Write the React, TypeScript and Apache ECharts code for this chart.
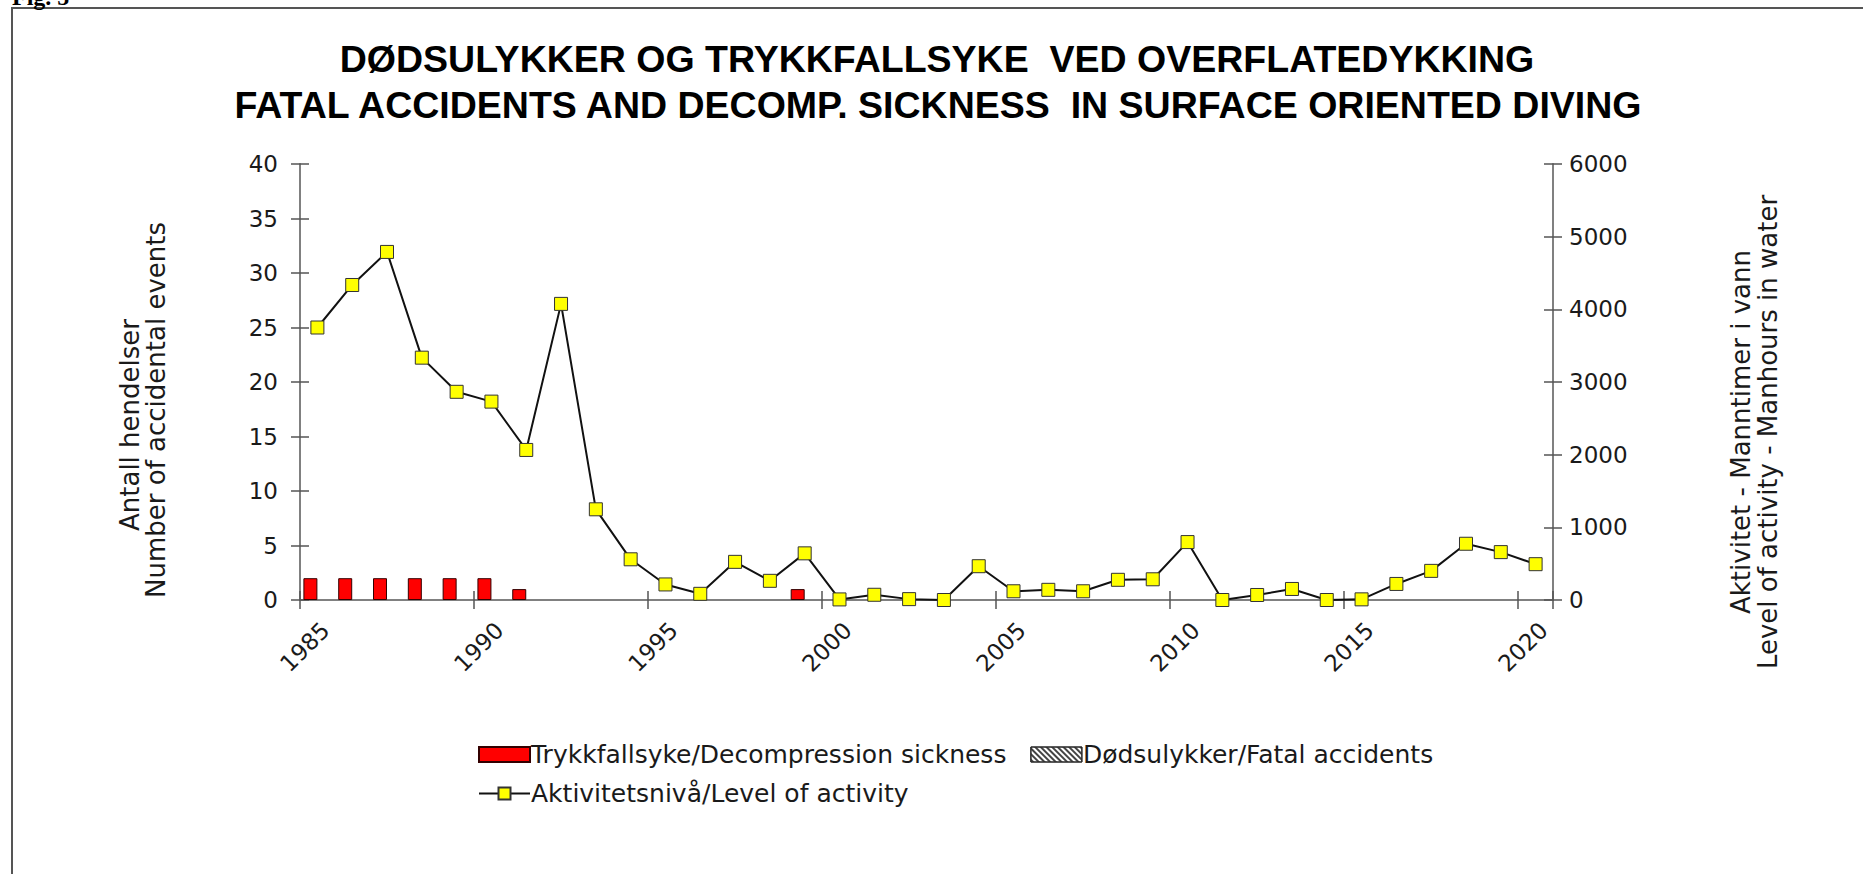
import React, { useEffect, useRef } from "react";
import * as echarts from "echarts";

const years = [
  "1985", "1986", "1987", "1988", "1989", "1990", "1991", "1992", "1993", "1994",
  "1995", "1996", "1997", "1998", "1999", "2000", "2001", "2002", "2003", "2004",
  "2005", "2006", "2007", "2008", "2009", "2010", "2011", "2012", "2013", "2014",
  "2015", "2016", "2017", "2018", "2019", "2020",
];

const decompressionSickness = [
  2, 2, 2, 2, 2, 2, 1, 0, 0, 0,
  0, 0, 0, 0, 1, 0, 0, 0, 0, 0,
  0, 0, 0, 0, 0, 0, 0, 0, 0, 0,
  0, 0, 0, 0, 0, 0,
];

const fatalAccidents = [
  0, 0, 0, 0, 0, 0, 0, 0, 0, 0,
  0, 0, 0, 0, 0, 0, 0, 0, 0, 0,
  0, 0, 0, 0, 0, 0, 0, 0, 0, 0,
  0, 0, 0, 0, 0, 0,
];

const activityLevel = [
  3750, 4335, 4790, 3335, 2865, 2730, 2065, 4075, 1248, 560,
  214, 85, 525, 264, 642, 8, 72, 12, 0, 465,
  120, 140, 120, 278, 285, 797, 0, 69, 152, 0,
  9, 221, 401, 774, 659, 493,
];

const titleLines = [
  "DØDSULYKKER OG TRYKKFALLSYKE  VED OVERFLATEDYKKING",
  "FATAL ACCIDENTS AND DECOMP. SICKNESS  IN SURFACE ORIENTED DIVING",
];
const leftAxisNames = ["Antall hendelser", "Number of accidental events"];
const rightAxisNames = ["Aktivitet - Manntimer i vann", "Level of activity - Manhours in water"];
const seriesNames = [
  "Trykkfallsyke/Decompression sickness",
  "Dødsulykker/Fatal accidents",
  "Aktivitetsnivå/Level of activity",
];

const TICK_FONT = "DejaVu Sans";
const TEXT_COLOR = "#1a1a1a";
const AXIS_COLOR = "#808080";
const TICK_COLOR = "#555";

const hatch = {
  symbol: "rect",
  symbolSize: 1,
  color: "#444",
  backgroundColor: "#ffffff",
  dashArrayX: [1, 0],
  dashArrayY: [2, 2],
  rotation: Math.PI / 4,
};

// zero-height bars are left undrawn (as in the reference), so their borders do not mark the axis
const barData = (values: number[]) => values.map((v) => (v === 0 ? "-" : v));

export default function App() {
  const ref = useRef<HTMLDivElement>(null);

  useEffect(() => {
    if (!ref.current) return;
    const chart = echarts.init(ref.current, undefined, { renderer: "svg" });

    const tickLabel = {
      fontFamily: TICK_FONT,
      fontSize: 23,
      color: TEXT_COLOR,
    };

    const rotatedName = (text: string, x: number, y: number) => ({
      type: "text",
      x,
      y,
      rotation: Math.PI / 2,
      style: {
        text,
        font: "26px 'DejaVu Sans'",
        fill: TEXT_COLOR,
        textAlign: "center",
        textVerticalAlign: "middle",
      },
    });

    const titleText = (text: string, x: number, y: number) => ({
      type: "text",
      x,
      y,
      style: {
        text,
        font: "bold 37.5px 'Liberation Sans'",
        fill: "#000",
        textAlign: "center",
        textVerticalAlign: "middle",
      },
    });

    const legendText = { fontFamily: TICK_FONT, fontSize: 25, color: TEXT_COLOR, padding: [0, 0, 0, -4] };

    const option: any = {
      animation: false,
      backgroundColor: "#fff",
      grid: { left: 300, right: 310, top: 164, bottom: 274, containLabel: false },
      graphic: [
        {
          type: "rect",
          shape: { x: 12, y: 8, width: 1900, height: 900 },
          style: { fill: "none", stroke: "#555", lineWidth: 2 },
          silent: true,
        },
        {
          type: "text",
          x: 12,
          y: 9,
          style: {
            text: "Fig. 5",
            font: "bold 24px 'Liberation Serif'",
            fill: "#000",
            textAlign: "left",
            textVerticalAlign: "bottom",
          },
        },
        titleText(titleLines[0], 937, 59),
        titleText(titleLines[1], 938, 105),
        rotatedName(leftAxisNames[0], 130, 425),
        rotatedName(leftAxisNames[1], 156, 410),
        rotatedName(rightAxisNames[0], 1741, 432),
        rotatedName(rightAxisNames[1], 1768, 432),
      ],
      legend: [
        {
          left: 473,
          top: 737,
          itemWidth: 51,
          itemHeight: 15,
          itemGap: 24,
          data: [
            { name: seriesNames[0], icon: "rect" },
            {
              name: seriesNames[1],
              icon: "rect",
              itemStyle: { color: "#ffffff", borderColor: "#222", borderWidth: 1, decal: hatch },
            },
          ],
          textStyle: legendText,
        },
        {
          left: 473,
          top: 776,
          itemWidth: 51,
          itemHeight: 15,
          data: [{ name: seriesNames[2] }],
          textStyle: legendText,
        },
      ],
      xAxis: [
        {
          type: "category",
          data: years,
          position: "bottom",
          boundaryGap: true,
          axisLine: { show: true, onZero: false, lineStyle: { color: AXIS_COLOR, width: 2 } },
          axisTick: { show: true, interval: 4, length: 9, alignWithLabel: false, lineStyle: { color: TICK_COLOR, width: 1.5 } },
          axisLabel: { ...tickLabel, interval: 4, rotate: 45, margin: 18, verticalAlign: "top" },
          splitLine: { show: false },
        },
        {
          type: "category",
          data: years,
          position: "bottom",
          boundaryGap: true,
          axisLine: { show: false },
          axisTick: { show: true, inside: true, interval: 4, length: 9, lineStyle: { color: TICK_COLOR, width: 1.5 } },
          axisLabel: { show: false },
          splitLine: { show: false },
        },
      ],
      yAxis: [
        {
          type: "value",
          position: "left",
          min: 0,
          max: 40,
          interval: 5,
          axisLine: { show: true, lineStyle: { color: AXIS_COLOR, width: 2 } },
          axisTick: { show: true, length: 9, lineStyle: { color: TICK_COLOR, width: 1.5 } },
          axisLabel: { ...tickLabel, margin: 22 },
          splitLine: { show: false },
        },
        {
          type: "value",
          position: "right",
          min: 0,
          max: 6000,
          interval: 1000,
          alignTicks: false,
          axisLine: { show: true, lineStyle: { color: AXIS_COLOR, width: 2 } },
          axisTick: { show: true, length: 9, lineStyle: { color: TICK_COLOR, width: 1.5 } },
          axisLabel: { ...tickLabel, margin: 16, formatter: (v: number) => String(v) },
          splitLine: { show: false },
        },
        {
          type: "value",
          position: "left",
          min: 0,
          max: 40,
          interval: 5,
          alignTicks: false,
          axisLine: { show: false },
          axisTick: { show: true, inside: true, length: 9, lineStyle: { color: TICK_COLOR, width: 1.5 } },
          axisLabel: { show: false },
          splitLine: { show: false },
        },
        {
          type: "value",
          position: "right",
          min: 0,
          max: 6000,
          interval: 1000,
          alignTicks: false,
          axisLine: { show: false },
          axisTick: { show: true, inside: true, length: 9, lineStyle: { color: TICK_COLOR, width: 1.5 } },
          axisLabel: { show: false },
          splitLine: { show: false },
        },
      ],
      series: [
        {
          name: seriesNames[0],
          type: "bar",
          xAxisIndex: 0,
          yAxisIndex: 0,
          data: barData(decompressionSickness),
          barWidth: 14,
          barGap: "0%",
          itemStyle: { color: "#ff0000", borderColor: "#300", borderWidth: 1 },
          z: 2,
        },
        {
          name: seriesNames[1],
          type: "bar",
          xAxisIndex: 0,
          yAxisIndex: 0,
          data: barData(fatalAccidents),
          barWidth: 14,
          barGap: "0%",
          itemStyle: { color: "#ffffff", borderColor: "#222", borderWidth: 1, decal: hatch },
          z: 2,
        },
        {
          name: seriesNames[2],
          type: "line",
          xAxisIndex: 0,
          yAxisIndex: 1,
          data: activityLevel,
          symbol: "rect",
          symbolSize: 13,
          showAllSymbol: true,
          lineStyle: { color: "#111", width: 2 },
          itemStyle: { color: "#ffff00", borderColor: "#333", borderWidth: 1 },
          z: 5,
        },
      ],
    };

    chart.setOption(option);
    return () => chart.dispose();
  }, []);

  return (
    <div
      ref={ref}
      style={{ position: "absolute", left: 0, top: 0, width: 1863, height: 874, background: "#fff" }}
    />
  );
}
